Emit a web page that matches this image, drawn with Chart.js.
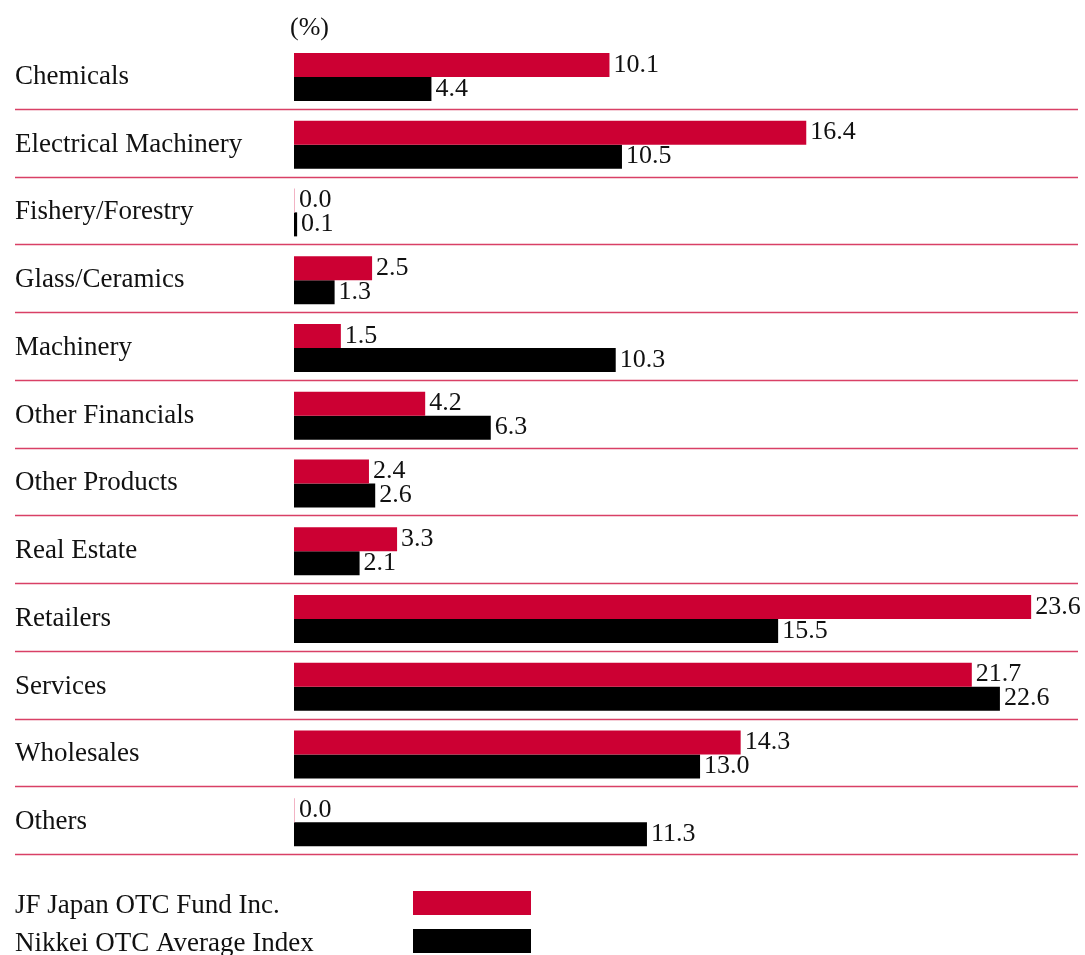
<!DOCTYPE html>
<html>
<head>
<meta charset="utf-8">
<title>Sector breakdown</title>
<script src="https://cdn.jsdelivr.net/npm/chart.js@4.4.1/dist/chart.umd.min.js"></script>
<style>
  html, body { margin: 0; padding: 0; background: #ffffff; }
  #wrap { width: 1085px; height: 955px; }
</style>
</head>
<body>
<div id="wrap"><canvas id="sectorChart" width="1085" height="955"></canvas></div>
<script>
const categories = ["Chemicals", "Electrical Machinery", "Fishery/Forestry", "Glass/Ceramics", "Machinery",
    "Other Financials", "Other Products", "Real Estate", "Retailers", "Services", "Wholesales", "Others"];
const fundValues = [10.1, 16.4, 0.0, 2.5, 1.5, 4.2, 2.4, 3.3, 23.6, 21.7, 14.3, 0.0];
const indexValues = [4.4, 10.5, 0.1, 1.3, 10.3, 6.3, 2.6, 2.1, 15.5, 22.6, 13.0, 11.3];
const seriesNames = ["JF Japan OTC Fund Inc.", "Nikkei OTC Average Index"];
const unitLabel = "(%)";

const RED = '#cc0033';
const BLACK = '#000000';
const FONT = "'Liberation Serif', 'Times New Roman', serif";

Chart.defaults.font.family = FONT;
Chart.defaults.color = '#111111';

// Etichette valori, righe separatrici, unità e legenda
const extras = {
    id: 'extras',
    afterDatasetsDraw(chart) {
        const ctx = chart.ctx;
        const y = chart.scales.y;
        ctx.save();
        ctx.font = "26px " + FONT;
        ctx.fillStyle = '#111111';
        ctx.textBaseline = 'middle';
        ctx.textAlign = 'left';

        chart.data.datasets.forEach((ds, i) => {
            chart.getDatasetMeta(i).data.forEach((bar, j) => {
                ctx.fillText(ds.data[j].toFixed(1), bar.x + 4, bar.y);
            });
        });

        // separatori tra categorie
        const step = y.getPixelForValue(1) - y.getPixelForValue(0);
        ctx.strokeStyle = 'rgba(204, 0, 51, 0.75)';
        ctx.lineWidth = 1.5;
        categories.forEach((c, i) => {
            const ly = Math.round(y.getPixelForValue(i) + step / 2 - 2) + 0.5;
            ctx.beginPath();
            ctx.moveTo(15, ly);
            ctx.lineTo(chart.chartArea.right, ly);
            ctx.stroke();
        });

        // unità
        ctx.fillText(unitLabel, 290, 28);

        // legenda
        ctx.font = "27px " + FONT;
        const colors = [RED, BLACK];
        seriesNames.forEach((name, i) => {
            const top = 891 + i * 38;
            ctx.fillStyle = '#111111';
            ctx.fillText(name, 15, top + 15);
            ctx.fillStyle = colors[i];
            ctx.fillRect(413, top, 118, 24);
        });
        ctx.restore();
    }
};

new Chart(document.getElementById('sectorChart'), {
    type: 'bar',
    data: {
        labels: categories,
        datasets: [{
            label: seriesNames[0],
            data: fundValues,
            backgroundColor: c => c.raw === 0 ? '#f2b3c4' : RED,
            minBarLength: 1
        }, {
            label: seriesNames[1],
            data: indexValues,
            backgroundColor: BLACK,
            minBarLength: 1
        }]
    },
    options: {
        indexAxis: 'y',
        responsive: false,
        animation: false,
        barPercentage: 1,
        categoryPercentage: 48 / 67.75,
        layout: { padding: { left: 15, right: 7, top: 43, bottom: 99 } },
        plugins: {
            legend: { display: false },
            tooltip: { enabled: false }
        },
        scales: {
            x: {
                display: false,
                min: 0,
                max: 25.1
            },
            y: {
                grid: { display: false },
                border: { display: false },
                ticks: {
                    crossAlign: 'far',
                    color: '#111111',
                    font: { size: 27 }
                },
                afterFit(scale) { scale.width = 279; }
            }
        }
    },
    plugins: [extras]
});
</script>
</body>
</html>
